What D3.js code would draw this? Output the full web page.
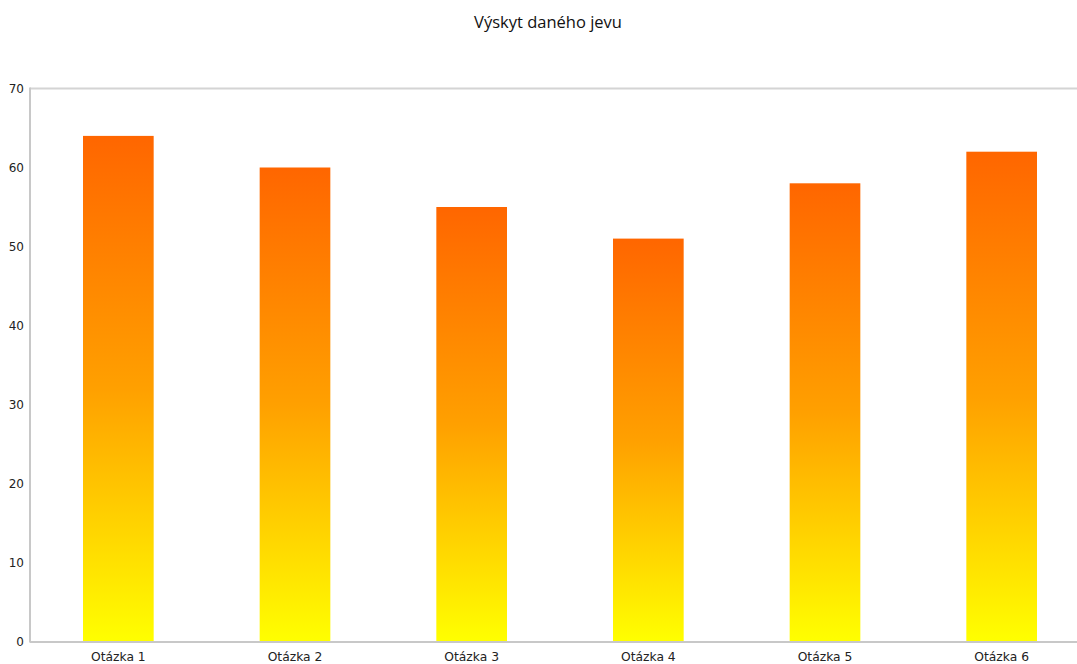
<!DOCTYPE html>
<html>
<head>
<meta charset="utf-8">
<script src="https://cdnjs.cloudflare.com/ajax/libs/d3/7.8.5/d3.min.js"></script>
<style>
  html, body { margin: 0; padding: 0; background: #fff; }
  svg { display: block; }
</style>
</head>
<body>
<svg id="chart" width="1077" height="664"></svg>
<script>
const categories = ["Otázka 1", "Otázka 2", "Otázka 3", "Otázka 4", "Otázka 5", "Otázka 6"];
const values = [64, 60, 55, 51, 58, 62];
const yTicks = [0, 10, 20, 30, 40, 50, 60, 70];
const title = "Výskyt daného jevu";

const W = 1077, H = 664;
const margin = { top: 88.5, right: -13, bottom: 22.5, left: 30 };

const svg = d3.select("#chart");

const x = d3.scaleBand()
  .domain(categories)
  .range([margin.left, W - margin.right])
  .paddingInner(0.6)
  .paddingOuter(0.3);

const y = d3.scaleLinear()
  .domain([0, 70])
  .range([H - margin.bottom, margin.top]);

// vertical gradient, orange at the top fading into yellow at the base
const defs = svg.append("defs");
const grad = defs.append("linearGradient")
  .attr("id", "barFill")
  .attr("x1", 0).attr("y1", 0).attr("x2", 0).attr("y2", 1);
grad.append("stop").attr("offset", "0%").attr("stop-color", "#ff6600");
grad.append("stop").attr("offset", "50%").attr("stop-color", "#ffa000");
grad.append("stop").attr("offset", "100%").attr("stop-color", "#ffff00");

// title
svg.append("text")
  .attr("x", 548)
  .attr("y", 28)
  .attr("text-anchor", "middle")
  .attr("font-family", "'Open Sans', 'Noto Sans', sans-serif")
  .attr("font-size", 16.5)
  .attr("fill", "#111")
  .text(title);

// frame lines: top and left borders
svg.append("line")
  .attr("x1", margin.left).attr("x2", W)
  .attr("y1", y(70)).attr("y2", y(70))
  .attr("stroke", "#d4d4d4").attr("stroke-width", 2);
svg.append("line")
  .attr("x1", margin.left).attr("x2", margin.left)
  .attr("y1", y(70) - 1).attr("y2", y(0) + 1)
  .attr("stroke", "#c8c8c8").attr("stroke-width", 2);

// bars
svg.append("g")
  .selectAll("rect")
  .data(values)
  .join("rect")
  .attr("x", (d, i) => x(categories[i]))
  .attr("y", d => y(d))
  .attr("width", x.bandwidth())
  .attr("height", d => y(0) - y(d))
  .attr("fill", "url(#barFill)");

// baseline
svg.append("line")
  .attr("x1", margin.left).attr("x2", W)
  .attr("y1", y(0) + 0.5).attr("y2", y(0) + 0.5)
  .attr("stroke", "#c8c8c8").attr("stroke-width", 2);

// y axis
const yAxis = svg.append("g")
  .attr("transform", `translate(${margin.left},0)`)
  .call(d3.axisLeft(y).tickValues(yTicks).tickSize(0).tickPadding(6));
yAxis.select(".domain").remove();
yAxis.selectAll("text")
  .attr("font-family", "'DejaVu Sans', Verdana, sans-serif")
  .attr("font-size", 12)
  .attr("fill", "#222");

// x axis
const xAxis = svg.append("g")
  .attr("transform", `translate(0,${y(0)})`)
  .call(d3.axisBottom(x).tickSize(0).tickPadding(11));
xAxis.select(".domain").remove();
xAxis.selectAll("text")
  .attr("font-family", "'DejaVu Sans', Verdana, sans-serif")
  .attr("font-size", 12.3)
  .attr("fill", "#222");
</script>
</body>
</html>
